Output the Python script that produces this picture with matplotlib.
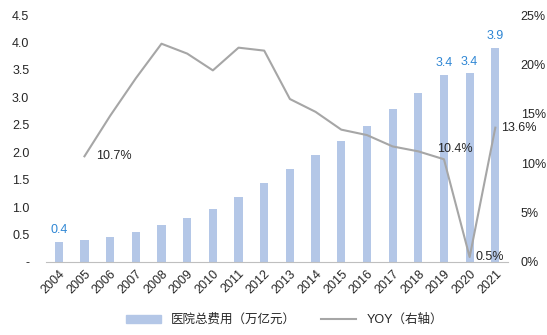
import matplotlib
matplotlib.use("Agg")
import matplotlib.pyplot as plt
from matplotlib.ticker import FuncFormatter
from matplotlib.patches import Patch
from matplotlib.lines import Line2D

plt.rcParams['font.family'] = ['Liberation Sans', 'Noto Sans CJK SC', 'DejaVu Sans']

years = [str(y) for y in range(2004, 2022)]
expense = [0.37, 0.40, 0.455, 0.546, 0.668, 0.807, 0.971, 1.18, 1.44, 1.69,
           1.95, 2.20, 2.48, 2.79, 3.08, 3.41, 3.44, 3.90]
yoy = [None, 10.7, 14.8, 18.6, 22.1, 21.1, 19.4, 21.7, 21.4, 16.5,
       15.2, 13.4, 12.85, 11.7, 11.2, 10.4, 0.5, 13.6]
bar_label_years = ['2004', '2019', '2020', '2021']
line_label_years = ['2005', '2019', '2020', '2021']

bar_color = '#B4C7E7'
line_color = '#A6A6A6'
label_blue = '#2E86D4'
text_color = '#262626'
fs = 9

fig = plt.figure(figsize=(5.47, 3.35), dpi=100)
ax = fig.add_axes([0.084, 0.218, 0.845, 0.737])
ax2 = ax.twinx()

x = list(range(len(years)))
ax.bar(x, expense, width=0.32, color=bar_color, zorder=2)
ax.set_xlim(-0.5, len(years) - 0.5)
ax.set_ylim(0, 4.5)
ax.set_yticks([0, 0.5, 1, 1.5, 2, 2.5, 3, 3.5, 4, 4.5])
ax.yaxis.set_major_formatter(FuncFormatter(lambda v, p: '-' if v == 0 else f'{v:.1f}'))
ax.set_xticks(x)
ax.set_xticklabels(years, rotation=45, ha='right', rotation_mode='anchor')
ax.tick_params(axis='x', length=0, pad=4, labelsize=fs, labelcolor=text_color)
ax.tick_params(axis='y', length=0, pad=12, labelsize=fs, labelcolor=text_color)
for s in ['top', 'left', 'right']:
    ax.spines[s].set_visible(False)
ax.spines['bottom'].set_color('#BFBFBF')
ax.spines['bottom'].set_linewidth(0.8)

for i, (yr, v) in enumerate(zip(years, expense)):
    if yr in bar_label_years:
        ax.annotate(f'{v:.1f}', (i, v), xytext=(0, 4), textcoords='offset points',
                    ha='center', va='bottom', fontsize=fs, color=label_blue)

xs = [i for i, v in zip(x, yoy) if v is not None]
ys = [v for v in yoy if v is not None]
ax2.plot(xs, ys, color=line_color, linewidth=1.5, zorder=3)
ax2.set_ylim(0, 25)
ax2.set_yticks([0, 5, 10, 15, 20, 25])
ax2.yaxis.set_major_formatter(FuncFormatter(lambda v, p: f'{v:.0f}%'))
ax2.tick_params(axis='y', length=0, pad=9, labelsize=fs, labelcolor=text_color)
for s in ['top', 'left', 'right', 'bottom']:
    ax2.spines[s].set_visible(False)

offsets = {'2005': (8, 0, 'left', 'center'),
           '2019': (-5, 3, 'left', 'bottom'),
           '2020': (4, 0, 'left', 'center'),
           '2021': (4, 0, 'left', 'center')}
for i, (yr, v) in enumerate(zip(years, yoy)):
    if yr in line_label_years:
        dx, dy, ha, va = offsets[yr]
        ax2.annotate(f'{v:.1f}%', (i, v), xytext=(dx, dy), textcoords='offset points',
                     ha=ha, va=va, fontsize=fs, color=text_color)

handles = [Patch(color=bar_color), Line2D([0], [0], color=line_color, linewidth=1.5)]
labels = ['医院总费用（万亿元）', 'YOY（右轴）']
fig.legend(handles, labels, loc='center', bbox_to_anchor=(0.52, 0.045), ncol=2,
           frameon=False, fontsize=fs, handlelength=2.8, handleheight=0.6,
           columnspacing=2.0, labelcolor=text_color)

fig.savefig('out.png', dpi=100)
